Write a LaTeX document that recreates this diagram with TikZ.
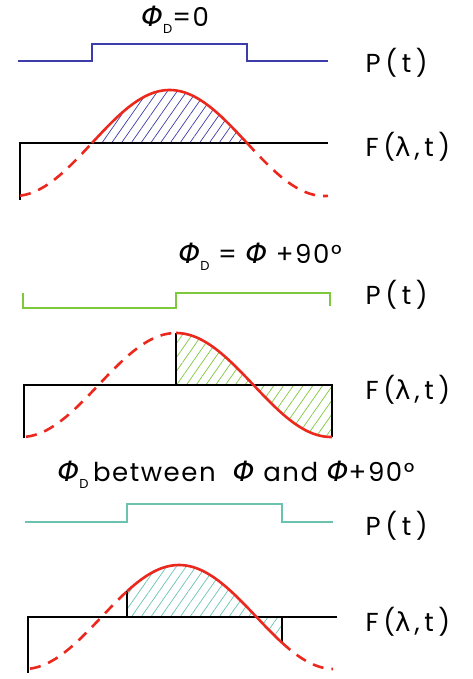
\documentclass[tikz,border=0pt]{standalone}
\usepackage{fontspec}
\setmainfont{Poppins}
\newfontfamily\grk{DejaVu Sans}
\usetikzlibrary{patterns.meta}
\definecolor{pblue}{RGB}{60,60,170}
\definecolor{pgreen}{RGB}{125,200,60}
\definecolor{pteal}{RGB}{105,195,175}
\definecolor{fred}{RGB}{235,40,30}
\newcommand{\Ph}{{\grk\itshape\fontsize{28}{28}\selectfont Φ}}
\newcommand{\PhD}{\Ph\raisebox{-0.5ex}{\fontsize{13}{13}\selectfont D}}
\newcommand{\lam}{{\grk\fontsize{26}{26}\selectfont λ}\hspace{4pt}}

\begin{document}
\begin{tikzpicture}[x=1pt, y=-1pt,
  declare function={wv(\t,\c,\b,\a)=\b-\a*cos((\t-\c)/155*180);},
  title/.style={font=\fontsize{26}{28}\selectfont\addfontfeature{LetterSpace=6}},
  lbl/.style={anchor=west, font=\fontsize{26}{28}\selectfont\addfontfeature{LetterSpace=18}},
  axis/.style={black, line width=1.5pt},
  pulse/.style={line width=2pt},
  wave/.style={fred, line width=2.6pt, smooth, samples=60},
  dwave/.style={wave, dash pattern=on 11pt off 8pt},
  hatch/.style={pattern={Lines[angle=55, distance=8pt, line width=0.7pt]}},
]
\useasboundingbox (0,0) rectangle (472,679);

% Phi_D = 0
\node[title] (t1) at (175,20) {\PhD=0};
\draw[pulse, pblue] (18,61) -- (92,61) -- (92,44) -- (247,44) -- (247,61) -- (328,61);
\node[lbl] (p1) at (362,63) {P(t)};
\fill[hatch, pattern color=pblue] plot[domain=92:247, samples=60] (\x,{wv(\x,169.5,143,53)}) -- cycle;
\draw[axis] (20,200) -- (20,143) -- (328,143);
\draw[dwave] plot[domain=20:92] (\x,{wv(\x,169.5,143,53)});
\draw[wave] plot[domain=92:247] (\x,{wv(\x,169.5,143,53)});
\draw[dwave] plot[domain=247:328] (\x,{wv(\x,169.5,143,53)});
\node[lbl] (f1) at (362,147) {F(\lam,t)};

% Phi_D = Phi + 90
\node[title] (t2) at (260,257) {\PhD\ = \Ph\ +90°};
\draw[pulse, pgreen] (23,293) -- (23,308) -- (176,308) -- (176,293) -- (330,293) -- (330,306);
\node[lbl] (p2) at (362,295) {P(t)};
\fill[hatch, pattern color=pgreen] plot[domain=176:332, samples=60] (\x,{wv(\x,176,385,52)}) -- (332,385) -- (176,385) -- cycle;
\draw[axis] (24,438) -- (24,385) -- (332,385) -- (332,437);
\draw[axis] (176,385) -- (176,333);
\draw[dwave] plot[domain=26:176] (\x,{wv(\x,176,385,52)});
\draw[wave] plot[domain=176:332] (\x,{wv(\x,176,385,52)});
\node[lbl] (f2) at (362,390) {F(\lam,t)};

% Phi_D between
\node[title] (t3) at (236,475) {\PhD\,between \ \Ph\ and \Ph+90°};
\draw[pulse, pteal] (25,522) -- (127,522) -- (127,504) -- (282,504) -- (282,522) -- (333,522);
\node[lbl] (p3) at (362,526) {P(t)};
\fill[hatch, pattern color=pteal] plot[domain=127:282, samples=60] (\x,{wv(\x,179,617,52)}) -- (282,617) -- (127,617) -- cycle;
\draw[axis] (28,673) -- (28,617) -- (337,617);
\draw[axis] (127,617) -- (127,{wv(127,179,617,52)});
\draw[axis] (282,617) -- (282,{wv(282,179,617,52)});
\draw[dwave] plot[domain=30:127] (\x,{wv(\x,179,617,52)});
\draw[wave] plot[domain=127:282] (\x,{wv(\x,179,617,52)});
\draw[dwave] plot[domain=282:333] (\x,{wv(\x,179,617,52)});
\node[lbl] (f3) at (362,622) {F(\lam,t)};
\end{tikzpicture}
\end{document}
